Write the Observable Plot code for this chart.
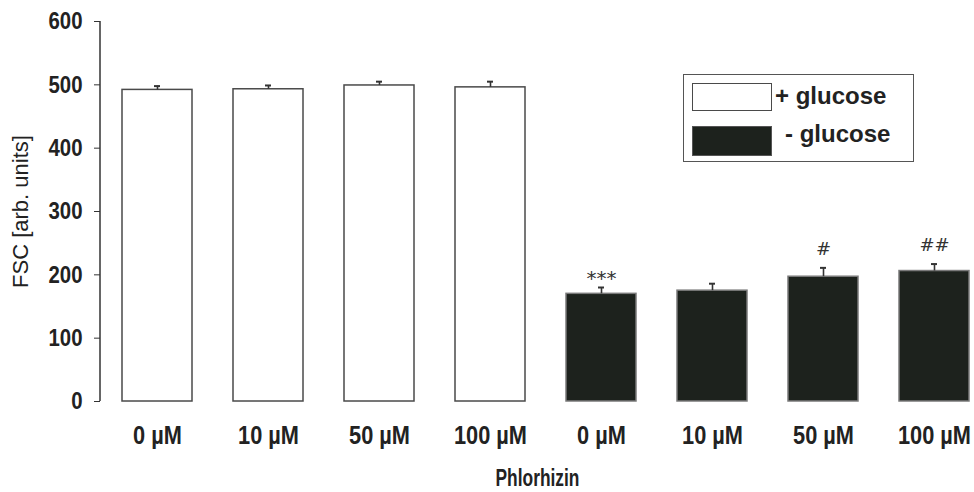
<!DOCTYPE html>
<html>
<head>
<meta charset="utf-8">
<script src="https://cdn.jsdelivr.net/npm/d3@7"></script>
<script src="https://cdn.jsdelivr.net/npm/@observablehq/plot@0.6"></script>
<style>
  html, body { margin: 0; padding: 0; background: #fff; }
  #wrap { position: relative; width: 974px; height: 492px; }
  #legend {
    position: absolute; left: 683px; top: 74px; width: 231px; height: 88px;
    border: 1.5px solid #555; background: #fff; box-sizing: border-box;
    font-family: "Liberation Sans", Arial, sans-serif; font-weight: bold; font-size: 24px; color: #222;
  }
  .sw { position: absolute; left: 8px; width: 80px; box-sizing: border-box; }
  .lt { position: absolute; line-height: 1; }
</style>
</head>
<body>
<div id="wrap">
  <div id="chart"></div>
  <div id="legend"></div>
</div>
<script>
// ---- data ----
const concentrations = ["0 µM", "10 µM", "50 µM", "100 µM"];
const groups = ["+ glucose", "- glucose"];
const plusMeans = [492, 493, 499, 496];
const plusErr = [6, 6, 6, 9];
const minusMeans = [170, 175, 197, 206];
const minusErr = [10, 11, 14, 11];
const minusNotes = ["***", "", "#", "##"];
const yTicks = [0, 100, 200, 300, 400, 500, 600];

const colors = {"+ glucose": "#ffffff", "- glucose": "#1d221d"};
const strokes = {"+ glucose": "#4a4a4a", "- glucose": "#7a7a7a"};

const rows = [];
concentrations.forEach((c, i) => rows.push({key: "p" + i, label: c, group: groups[0], value: plusMeans[i], err: plusErr[i], note: ""}));
concentrations.forEach((c, i) => rows.push({key: "m" + i, label: c, group: groups[1], value: minusMeans[i], err: minusErr[i], note: minusNotes[i]}));
const labelOf = Object.fromEntries(rows.map(d => [d.key, d.label]));

const font = '"Liberation Sans", Arial, sans-serif';

const chart = Plot.plot({
  width: 974,
  height: 492,
  marginLeft: 100,
  marginRight: 0,
  marginTop: 21,
  marginBottom: 91,
  style: {background: "#fff", fontFamily: font, color: "#222"},
  x: {domain: rows.map(d => d.key), range: [79.2, 1011], paddingInner: 0.371, paddingOuter: 0.371},
  y: {domain: [0, 600]},
  marks: [
    Plot.barY(rows, {x: "key", y: "value", fill: d => colors[d.group], stroke: d => strokes[d.group], strokeWidth: 1.5}),
    Plot.ruleX(rows, {x: "key", y1: "value", y2: d => d.value + d.err, stroke: "#333", strokeWidth: 1.6}),
    Plot.tickY(rows, {x: "key", y: d => d.value + d.err, insetLeft: 32, insetRight: 32, stroke: "#333", strokeWidth: 2}),
    Plot.text(rows.filter(d => d.note.startsWith("*")), {x: "key", y: d => d.value + d.err, text: "note", dy: -9, fontSize: 20, fill: "#333", fontFamily: "DejaVu Sans, sans-serif"}),
    Plot.text(rows.filter(d => d.note.startsWith("#")), {x: "key", y: d => d.value + d.err, text: "note", dy: -19, fontSize: 18, fill: "#333", fontFamily: "DejaVu Sans, sans-serif"}),
    Plot.axisY({ticks: yTicks, tickSize: 6, tickPadding: 12, fontSize: 24, fontWeight: "bold", label: null, stroke: "#333"}),
    Plot.axisX({tickSize: 0, tickPadding: 25, fontSize: 25, fontWeight: "bold", tickFormat: k => labelOf[k], label: null}),
    Plot.text(["Phlorhizin"], {frameAnchor: "bottom", dy: 84, fontSize: 24, fontWeight: "bold", fill: "#222", className: "xlabel"}),
    Plot.text(["FSC [arb. units]"], {frameAnchor: "left", textAnchor: "middle", dx: -80, rotate: -90, fontSize: 22, fill: "#222"})
  ]
});
document.getElementById("chart").appendChild(chart);

// y axis line drawn through the y scale
const ys = chart.scale("y");
d3.select(chart).append("line")
  .attr("x1", 100).attr("x2", 100)
  .attr("y1", ys.apply(0)).attr("y2", ys.apply(600))
  .attr("stroke", "#333").attr("stroke-width", 1.5);

// condense text horizontally (narrow typeface look), scaling about the anchor point
function condense(selection, factor) {
  selection.each(function () {
    const x = parseFloat(this.getAttribute("x")) || 0;
    const t = this.getAttribute("transform") || "";
    this.setAttribute("transform", `${t} translate(${x},0) scale(${factor},1) translate(${-x},0)`);
  });
}
function fitWidth(selection, sampleText, target) {
  let w = null;
  selection.each(function () { if (this.textContent === sampleText) w = this.getBBox().width; });
  if (w) condense(selection, target / w);
}
const root = d3.select(chart);
fitWidth(root.selectAll('g[aria-label="x-axis tick label"] text'), "100 µM", 73);
fitWidth(root.selectAll('g[aria-label="y-axis tick label"] text'), "600", 34);
fitWidth(root.selectAll('g.xlabel text'), "Phlorhizin", 84);

// legend
const legend = document.getElementById("legend");
groups.forEach((g, i) => {
  const sw = document.createElement("div");
  sw.className = "sw";
  sw.style.top = (i === 0 ? 8 : 51) + "px";
  sw.style.height = (i === 0 ? 28 : 30) + "px";
  sw.style.background = colors[g];
  sw.style.border = i === 0 ? "1.5px solid #4a4a4a" : "1px solid #555";
  legend.appendChild(sw);
  const t = document.createElement("div");
  t.className = "lt";
  t.style.left = (i === 0 ? 91 : 101) + "px";
  t.style.top = (i === 0 ? 9 : 47) + "px";
  t.textContent = g;
  legend.appendChild(t);
});
</script>
</body>
</html>
